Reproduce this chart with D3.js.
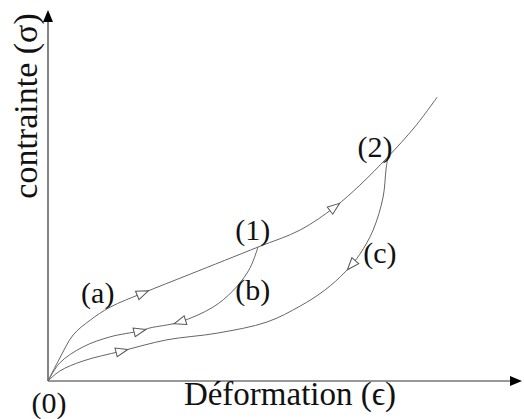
<!DOCTYPE html>
<html>
<head>
<meta charset="utf-8">
<script src="https://cdn.jsdelivr.net/npm/d3@7.9.0/dist/d3.min.js"></script>
<style>
  body { margin: 0; background: #fff; }
</style>
</head>
<body>
<svg id="chart" width="524" height="419"></svg>
<script>
// strain / stress in arbitrary units
const loading = [
  [0, 0], [0.25, 0.62], [0.53, 1.24], [0.89, 1.64], [1.31, 1.99], [2.0, 2.37],
  [3.0, 2.88], [4.43, 3.61], [5.32, 4.07], [6.05, 4.69], [6.58, 5.28],
  [7.17, 6.04], [7.74, 6.85], [8.21, 7.65]
];
const unloadB = [
  [4.43, 3.61], [4.32, 3.21], [4.2, 2.91], [3.9, 2.43], [3.48, 1.99],
  [2.78, 1.59], [2.15, 1.43], [1.94, 1.35], [1.31, 1.19], [0.74, 0.92],
  [0.25, 0.49], [0, 0]
];
const unloadC = [
  [7.17, 6.04], [7.13, 5.69], [7.07, 4.96], [6.86, 4.07], [6.58, 3.42],
  [6.27, 2.94], [5.84, 2.45], [5.32, 2.02], [4.62, 1.59], [3.57, 1.29],
  [2.51, 1.11], [1.56, 0.81], [0.74, 0.54], [0.25, 0.27], [0, 0]
];
// arrow marks: which curve, strain where it sits, +1 along the curve, -1 against
const arrows = [
  { curve: 0, at: 2.0, dir: 1 },
  { curve: 0, at: 6.05, dir: 1 },
  { curve: 1, at: 2.78, dir: 1 },
  { curve: 1, at: 1.94, dir: -1 },
  { curve: 2, at: 6.4, dir: 1 },
  { curve: 2, at: 1.56, dir: -1 }
];
const labels = [
  { text: "(a)", x: 1.05, y: 2.10 },
  { text: "(b)", x: 4.32, y: 2.18 },
  { text: "(1)", x: 4.32, y: 3.80 },
  { text: "(2)", x: 6.90, y: 6.04 },
  { text: "(c)", x: 7.00, y: 3.18 },
  { text: "(0)", x: 0.02, y: -0.86 }
];
const xLabel = "Déformation (\u03F5)";
const yLabel = "contrainte (\u03C3)";

const serif = "'Liberation Serif', 'Times New Roman', Times, 'DejaVu Serif', serif";

const svg = d3.select("#chart");
const x = d3.scaleLinear().domain([0, 10]).range([48, 522]);
const y = d3.scaleLinear().domain([0, 10]).range([381, 10]);

// axes
svg.append("line")
  .attr("x1", x(0)).attr("y1", y(0)).attr("x2", x(10) - 6).attr("y2", y(0))
  .attr("stroke", "#333").attr("stroke-width", 1.2);
svg.append("line")
  .attr("x1", x(0)).attr("y1", y(0)).attr("x2", x(0)).attr("y2", y(10) + 6)
  .attr("stroke", "#333").attr("stroke-width", 1.2);
svg.append("path")
  .attr("d", `M${x(10)},${y(0)} L${x(10) - 12},${y(0) - 5} L${x(10) - 12},${y(0) + 5} Z`)
  .attr("fill", "#000");
svg.append("path")
  .attr("d", `M${x(0)},${y(10)} L${x(0) - 5},${y(10) + 12} L${x(0) + 5},${y(10) + 12} Z`)
  .attr("fill", "#000");

const line = d3.line()
  .x(d => x(d[0]))
  .y(d => y(d[1]))
  .curve(d3.curveCatmullRom.alpha(0.5));

const curves = [loading, unloadB, unloadC];
const paths = curves.map(c =>
  svg.append("path")
    .attr("d", line(c))
    .attr("fill", "none")
    .attr("stroke", "#666")
    .attr("stroke-width", 1)
    .node()
);

// find length along a path where it reaches a given strain
function lengthAt(node, strain) {
  const total = node.getTotalLength();
  const px = x(strain);
  const startX = node.getPointAtLength(0).x;
  const endX = node.getPointAtLength(total).x;
  const increasing = endX > startX;
  let lo = 0, hi = total;
  for (let i = 0; i < 40; i++) {
    const mid = (lo + hi) / 2;
    const p = node.getPointAtLength(mid);
    if ((p.x < px) === increasing) lo = mid; else hi = mid;
  }
  return (lo + hi) / 2;
}

arrows.forEach(a => {
  const node = paths[a.curve];
  const l = lengthAt(node, a.at);
  const p0 = node.getPointAtLength(Math.max(0, l - 2));
  const p1 = node.getPointAtLength(l + 2);
  let ang = Math.atan2(p1.y - p0.y, p1.x - p0.x) * 180 / Math.PI;
  if (a.dir < 0) ang += 180;
  const p = node.getPointAtLength(l);
  svg.append("path")
    .attr("d", "M6,0 L-6,-4.5 L-6,4.5 Z")
    .attr("transform", `translate(${p.x},${p.y}) rotate(${ang})`)
    .attr("fill", "#fff")
    .attr("stroke", "#555")
    .attr("stroke-width", 1);
});

svg.selectAll("text.pt")
  .data(labels)
  .join("text")
  .attr("class", "pt")
  .attr("x", d => x(d.x))
  .attr("y", d => y(d.y))
  .attr("text-anchor", "middle")
  .attr("font-family", serif)
  .attr("fill", "#111")
  .style("font-size", "30px")
  .text(d => d.text);

svg.append("text")
  .attr("x", 290)
  .attr("y", 405)
  .attr("text-anchor", "middle")
  .attr("font-family", serif)
  .attr("fill", "#111")
  .style("font-size", "33px")
  .text(xLabel);

svg.append("text")
  .attr("transform", "rotate(-90)")
  .attr("x", -106)
  .attr("y", 37)
  .attr("text-anchor", "middle")
  .attr("font-family", serif)
  .attr("fill", "#111")
  .style("font-size", "34px")
  .text(yLabel);
</script>
</body>
</html>
